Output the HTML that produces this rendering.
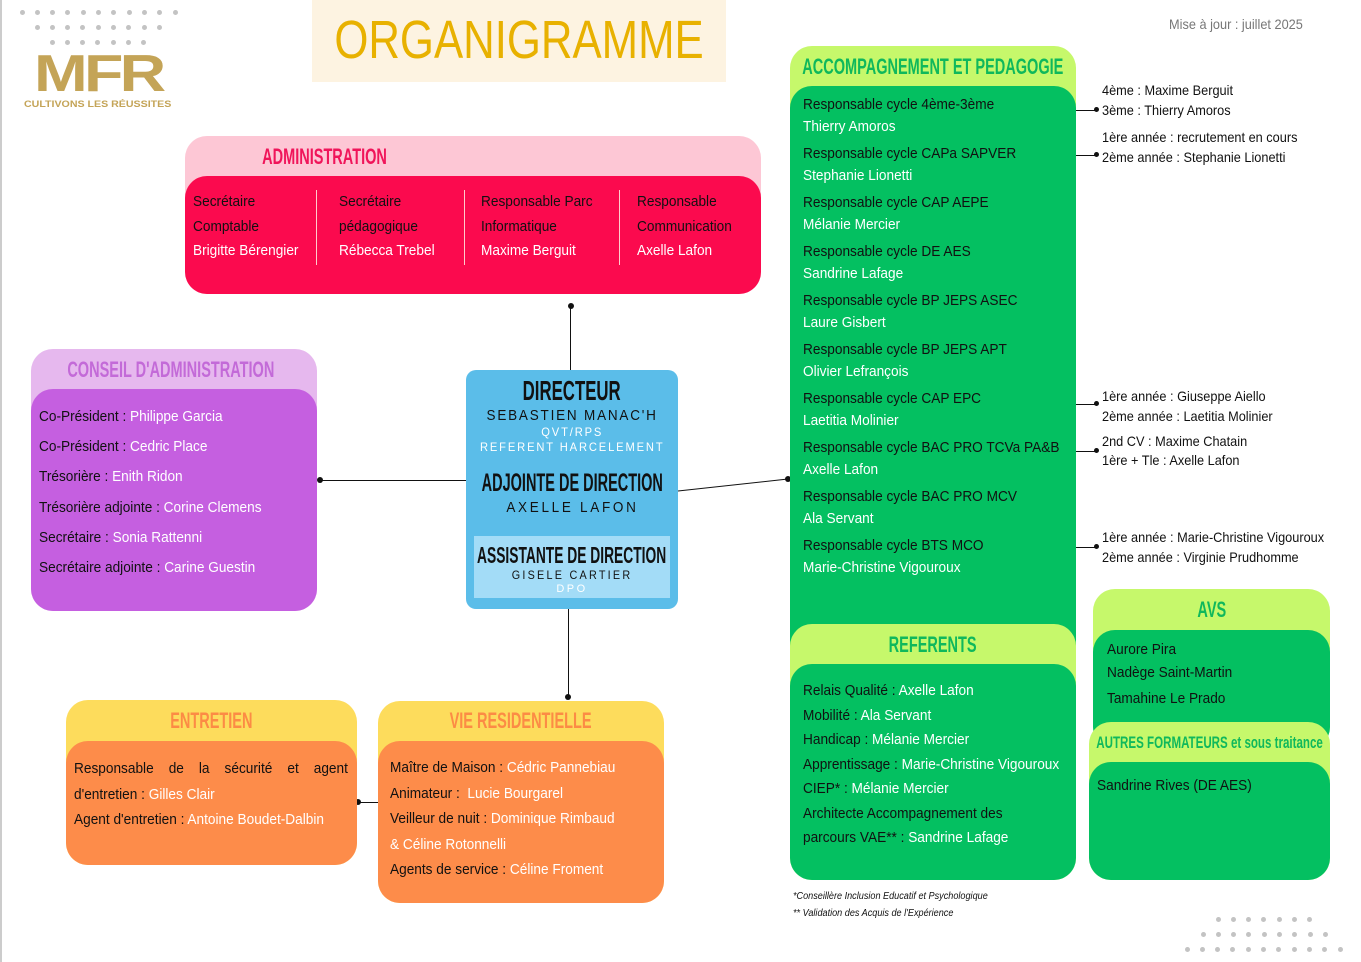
<!DOCTYPE html>
<html><head><meta charset="utf-8">
<style>
*{margin:0;padding:0;box-sizing:border-box}
body{width:1361px;height:962px;position:relative;background:#fff;overflow:hidden;font-family:"Liberation Sans",sans-serif;font-size:15px;color:#111}
.a{position:absolute}
.t{position:absolute;white-space:nowrap;line-height:18px;transform:scaleX(.91);transform-origin:0 0}
.c{position:absolute;white-space:nowrap;display:flex;justify-content:center}
.c>span{display:block;flex:none}
.w{color:#fff}
.h{position:absolute;white-space:nowrap;font-weight:bold;font-size:22px;line-height:24px;display:flex;justify-content:center}
.h>span{display:block;flex:none;transform:scaleX(.66)}
.dot{position:absolute;width:6px;height:6px;border-radius:3px;background:#111}
.ln{position:absolute;background:#111}
.gd{position:absolute;width:5px;height:5px;border-radius:3px;background:#c3c3c3}
</style></head><body>
<div class="a" style="left:0;top:0;width:2px;height:962px;background:#ccc"></div>
<div id="dots"></div>

<div class="a" style="left:34px;top:49px;font-size:52px;line-height:50px;font-weight:bold;color:#c4a457;letter-spacing:-3px;white-space:nowrap;transform:scaleX(1.24);transform-origin:0 0">MFR</div>
<div class="a" style="left:24px;top:99px;font-size:9px;line-height:11px;font-weight:bold;color:#c4a457;white-space:nowrap;transform:scaleX(1.18);transform-origin:0 0">CULTIVONS LES RÉUSSITES</div>

<div class="a" style="left:312px;top:0;width:414px;height:82px;background:#fdf3e1"></div>
<div class="c" style="left:312px;width:414px;top:12px;font-size:54px;line-height:56px;color:#e8b100"><span style="transform:scaleX(.81)">ORGANIGRAMME</span></div>
<div class="t" style="left:1169px;top:15px;font-size:14px;color:#777">Mise à jour : juillet 2025</div>

<div class="a" style="left:185px;top:136px;width:576px;height:158px;background:#fdc7d5;border-radius:22px"></div>
<div class="a" style="left:185px;top:176px;width:576px;height:118px;background:#fb0a4e;border-radius:22px"></div>
<div class="h" style="left:225px;width:200px;top:145px;color:#f0155a"><span>ADMINISTRATION</span></div>
<div class="a" style="left:316px;top:190px;width:1px;height:75px;background:#fcc"></div>
<div class="a" style="left:464px;top:190px;width:1px;height:75px;background:#fcc"></div>
<div class="a" style="left:619px;top:190px;width:1px;height:75px;background:#fcc"></div>
<div class="t" style="left:193px;top:190px;line-height:24.5px">Secrétaire<br>Comptable<br><span class="w">Brigitte Bérengier</span></div>
<div class="t" style="left:339px;top:190px;line-height:24.5px">Secrétaire<br>pédagogique<br><span class="w">Rébecca Trebel</span></div>
<div class="t" style="left:481px;top:190px;line-height:24.5px">Responsable Parc<br>Informatique<br><span class="w">Maxime Berguit</span></div>
<div class="t" style="left:637px;top:190px;line-height:24.5px">Responsable<br>Communication<br><span class="w">Axelle Lafon</span></div>

<div class="a" style="left:31px;top:349px;width:286px;height:262px;background:#e6b8ee;border-radius:22px"></div>
<div class="a" style="left:31px;top:389px;width:286px;height:222px;background:#c55fe0;border-radius:22px"></div>
<div class="h" style="left:31px;width:280px;top:358px;color:#c36ad8"><span>CONSEIL D'ADMINISTRATION</span></div>
<div class="t" style="left:39px;top:402px;line-height:30.2px">Co-Président : <span class="w">Philippe Garcia</span><br>Co-Président : <span class="w">Cedric Place</span><br>Trésorière : <span class="w">Enith Ridon</span><br>Trésorière adjointe : <span class="w">Corine Clemens</span><br>Secrétaire : <span class="w">Sonia Rattenni</span><br>Secrétaire adjointe : <span class="w">Carine Guestin</span></div>

<div class="a" style="left:466px;top:370px;width:212px;height:239px;background:#5bbde9;border-radius:10px"></div>
<div class="a" style="left:474px;top:536px;width:196px;height:62px;background:#a3dcf7"></div>
<div class="c" style="left:466px;width:212px;top:377px;font-size:28px;line-height:28px;font-weight:bold"><span style="transform:scaleX(.6)">DIRECTEUR</span></div>
<div class="c" style="left:466px;width:212px;top:407px;font-size:15px;line-height:18px;letter-spacing:2px"><span style="transform:scaleX(.9)">SEBASTIEN MANAC'H</span></div>
<div class="c" style="left:466px;width:212px;top:425px;font-size:12px;line-height:15px;letter-spacing:2px;color:#fff"><span style="transform:scaleX(.93);text-align:center">QVT/RPS<br>REFERENT HARCELEMENT</span></div>
<div class="c" style="left:456px;width:232px;top:470px;font-size:25px;line-height:26px;font-weight:bold"><span style="transform:scaleX(.58)">ADJOINTE DE DIRECTION</span></div>
<div class="c" style="left:466px;width:212px;top:499px;font-size:15px;line-height:18px;letter-spacing:3px"><span style="transform:scaleX(.9)">AXELLE LAFON</span></div>
<div class="c" style="left:456px;width:232px;top:543px;font-size:23px;line-height:24px;font-weight:bold"><span style="transform:scaleX(.6)">ASSISTANTE DE DIRECTION</span></div>
<div class="c" style="left:466px;width:212px;top:568px;font-size:12px;line-height:14px;letter-spacing:2.5px"><span style="transform:scaleX(.9)">GISELE CARTIER</span></div>
<div class="c" style="left:466px;width:212px;top:583px;font-size:11px;line-height:13px;letter-spacing:2.5px;color:#fff"><span>DPO</span></div>

<div class="ln" style="left:570px;top:306px;width:1px;height:64px"></div><div class="dot" style="left:568px;top:303px"></div>
<div class="ln" style="left:320px;top:480px;width:146px;height:1px"></div><div class="dot" style="left:317px;top:477px"></div>
<svg class="a" style="left:0;top:0" width="1361" height="962"><line x1="678" y1="491" x2="788" y2="479" stroke="#111" stroke-width="1"/></svg>
<div class="dot" style="left:785px;top:476px"></div>
<div class="ln" style="left:568px;top:609px;width:1px;height:88px"></div><div class="dot" style="left:565px;top:694px"></div>
<div class="ln" style="left:358px;top:802px;width:20px;height:1px"></div><div class="dot" style="left:355px;top:799px"></div>

<div class="a" style="left:66px;top:700px;width:291px;height:165px;background:#fddc5c;border-radius:22px"></div>
<div class="a" style="left:66px;top:741px;width:291px;height:124px;background:#fd8c4a;border-radius:22px"></div>
<div class="h" style="left:66px;width:291px;top:709px;color:#fc8b45"><span>ENTRETIEN</span></div>
<div class="t" style="left:74px;top:756px;width:301px;line-height:25.5px;white-space:normal;text-align:justify;text-align-last:left">Responsable de la sécurité et agent d'entretien : <span class="w">Gilles Clair</span><br><span style="white-space:nowrap">Agent d'entretien : <span class="w">Antoine Boudet-Dalbin</span></span></div>

<div class="a" style="left:378px;top:701px;width:286px;height:202px;background:#fddc5c;border-radius:22px"></div>
<div class="a" style="left:378px;top:741px;width:286px;height:162px;background:#fd8c4a;border-radius:22px"></div>
<div class="h" style="left:378px;width:286px;top:709px;color:#fc8b45"><span>VIE RESIDENTIELLE</span></div>
<div class="t" style="left:390px;top:755px;line-height:25.5px">Maître de Maison : <span class="w">Cédric Pannebiau</span><br>Animateur :&nbsp; <span class="w">Lucie Bourgarel</span><br>Veilleur de nuit : <span class="w">Dominique Rimbaud</span><br><span class="w">&amp; Céline Rotonnelli</span><br>Agents de service : <span class="w">Céline Froment</span></div>

<div class="a" style="left:790px;top:46px;width:286px;height:620px;background:#c6f86b;border-radius:22px"></div>
<div class="a" style="left:790px;top:86px;width:286px;height:580px;background:#04c061;border-radius:22px"></div>
<div class="h" style="left:790px;width:286px;top:55px;color:#0fb85c"><span>ACCOMPAGNEMENT ET PEDAGOGIE</span></div>
<div class="t" style="left:803px;top:94px;line-height:22px">
Responsable cycle 4ème-3ème<br><span class="w">Thierry Amoros</span><br>
<div style="height:5px"></div>Responsable cycle CAPa SAPVER<br><span class="w">Stephanie Lionetti</span><br>
<div style="height:5px"></div>Responsable cycle CAP AEPE<br><span class="w">Mélanie Mercier</span><br>
<div style="height:5px"></div>Responsable cycle DE AES<br><span class="w">Sandrine Lafage</span><br>
<div style="height:5px"></div>Responsable cycle BP JEPS ASEC<br><span class="w">Laure Gisbert</span><br>
<div style="height:5px"></div>Responsable cycle BP JEPS APT<br><span class="w">Olivier Lefrançois</span><br>
<div style="height:5px"></div>Responsable cycle CAP EPC<br><span class="w">Laetitia Molinier</span><br>
<div style="height:5px"></div>Responsable cycle BAC PRO TCVa PA&amp;B<br><span class="w">Axelle Lafon</span><br>
<div style="height:5px"></div>Responsable cycle BAC PRO MCV<br><span class="w">Ala Servant</span><br>
<div style="height:5px"></div>Responsable cycle BTS MCO<br><span class="w">Marie-Christine Vigouroux</span></div>

<div class="a" style="left:790px;top:624px;width:286px;height:256px;background:#c6f86b;border-radius:22px"></div>
<div class="a" style="left:790px;top:664px;width:286px;height:216px;background:#04c061;border-radius:22px"></div>
<div class="h" style="left:790px;width:286px;top:633px;color:#0fb85c"><span>REFERENTS</span></div>
<div class="t" style="left:803px;top:679px;line-height:24.5px">Relais Qualité : <span class="w">Axelle Lafon</span><br>Mobilité : <span class="w">Ala Servant</span><br>Handicap : <span class="w">Mélanie Mercier</span><br>Apprentissage : <span class="w">Marie-Christine Vigouroux</span><br>CIEP* : <span class="w">Mélanie Mercier</span><br>Architecte Accompagnement des<br>parcours VAE** : <span class="w">Sandrine Lafage</span></div>
<div class="t" style="left:793px;top:888px;font-size:10px;line-height:17px;font-style:italic">*Conseillère Inclusion Educatif et Psychologique<br>** Validation des Acquis de l'Expérience</div>

<div class="t" style="left:1102px;top:80px;font-size:14px;line-height:20px">4ème : Maxime Berguit<br>3ème : Thierry Amoros</div>
<div class="t" style="left:1102px;top:127px;font-size:14px;line-height:20px">1ère année : recrutement en cours<br>2ème année : Stephanie Lionetti</div>
<div class="t" style="left:1102px;top:386px;font-size:14px;line-height:20px">1ère année : Giuseppe Aiello<br>2ème année : Laetitia Molinier</div>
<div class="t" style="left:1102px;top:432px;font-size:14px;line-height:19px">2nd CV : Maxime Chatain<br>1ère + Tle : Axelle Lafon</div>
<div class="t" style="left:1102px;top:527px;font-size:14px;line-height:20px">1ère année : Marie-Christine Vigouroux<br>2ème année : Virginie Prudhomme</div>
<div class="ln" style="left:1076px;top:110px;width:20px;height:1px"></div><div class="dot" style="left:1094px;top:107px;width:5px;height:5px"></div>
<div class="ln" style="left:1076px;top:155px;width:20px;height:1px"></div><div class="dot" style="left:1094px;top:152px;width:5px;height:5px"></div>
<div class="ln" style="left:1076px;top:404px;width:20px;height:1px"></div><div class="dot" style="left:1094px;top:401px;width:5px;height:5px"></div>
<div class="ln" style="left:1076px;top:451px;width:20px;height:1px"></div><div class="dot" style="left:1094px;top:448px;width:5px;height:5px"></div>
<div class="ln" style="left:1076px;top:547px;width:20px;height:1px"></div><div class="dot" style="left:1094px;top:544px;width:5px;height:5px"></div>

<div class="a" style="left:1093px;top:589px;width:237px;height:160px;background:#c6f86b;border-radius:22px"></div>
<div class="a" style="left:1093px;top:630px;width:237px;height:119px;background:#04c061;border-radius:22px"></div>
<div class="h" style="left:1093px;width:237px;top:598px;color:#0fb85c"><span>AVS</span></div>
<div class="t" style="left:1107px;top:638px;line-height:23px">Aurore Pira<br>Nadège Saint-Martin<br><span style="line-height:30px">Tamahine Le Prado</span></div>

<div class="a" style="left:1089px;top:722px;width:241px;height:158px;background:#c6f86b;border-radius:22px"></div>
<div class="a" style="left:1089px;top:762px;width:241px;height:118px;background:#04c061;border-radius:22px"></div>
<div class="c" style="left:1089px;width:241px;top:733px;font-size:17px;line-height:20px;font-weight:bold;color:#0fb85c"><span style="transform:scaleX(.68)">AUTRES FORMATEURS et sous traitance</span></div>
<div class="t" style="left:1097px;top:777px">Sandrine Rives (DE AES)</div>

<script>
(function(){var d=document.getElementById('dots'),h='';
function row(x0,n,y){for(var i=0;i<n;i++)h+='<div class="gd" style="left:'+(x0+i*15.3-2.5)+'px;top:'+(y-2.5)+'px"></div>';}
row(22,11,12);row(37,9,27);row(52,7,42);
row(1218,7,919);row(1203,9,934);row(1187,11,949);
d.innerHTML=h;})();
</script>
</body></html>
